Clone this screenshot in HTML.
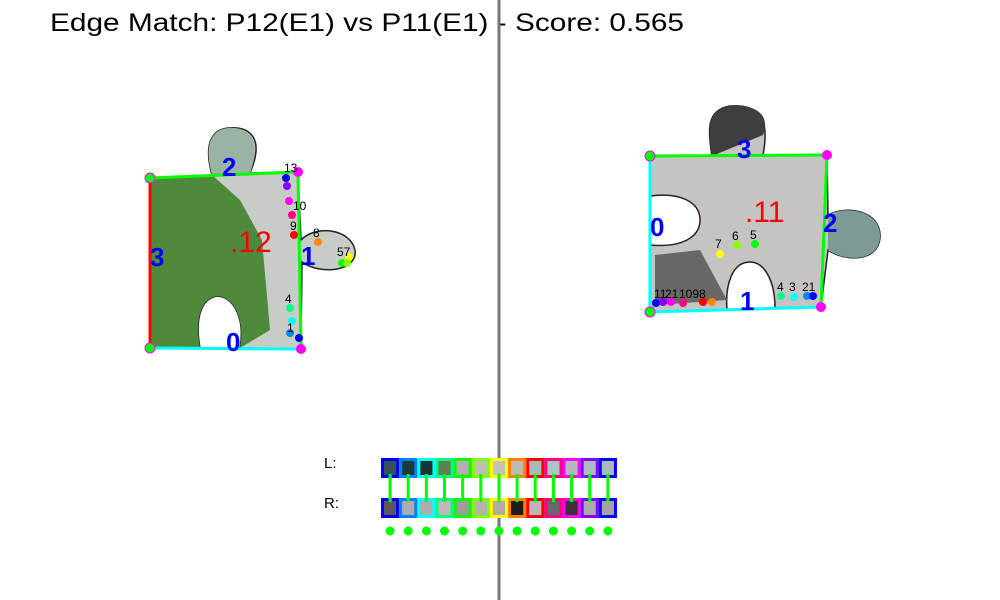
<!DOCTYPE html>
<html><head><meta charset="utf-8"><style>
html,body{margin:0;padding:0;background:#fff;}
svg{display:block;font-family:"Liberation Sans",sans-serif;}
</style></head><body>
<svg id="c" width="1000" height="600" viewBox="0 0 1000 600">
<rect width="1000" height="600" fill="#fff"/>
<text x="50" y="31" font-size="25" textLength="634" lengthAdjust="spacingAndGlyphs">Edge Match: P12(E1) vs P11(E1) - Score: 0.565</text>

<g>
<path d="M150,178 L212,175 C205,150 208,130 228,128 C250,126 265,138 250,173 L298,172 L301,240 C315,225 350,228 355,250 C358,272 320,275 302,262 L301,349 L240,348 C245,320 235,298 218,296 C200,298 195,320 200,348 L150,348 Z" fill="#c8ccc6" stroke="#222" stroke-width="1.5"/>
<path d="M150,178 L212,175 L240,200 L262,240 L270,330 L240,348 C245,320 235,298 218,296 C200,298 195,320 200,348 L150,348 Z" fill="#4e8a3c"/>
<path d="M212,175 C205,150 208,130 228,128 C250,126 262,140 250,173 Z" fill="#9ab3a4"/>
<line x1="150" y1="178" x2="298" y2="172" stroke="#0f0" stroke-width="3"/>
<line x1="298" y1="172" x2="301" y2="349" stroke="#0f0" stroke-width="3"/>
<line x1="150" y1="178" x2="150" y2="348" stroke="#f00" stroke-width="3"/>
<line x1="150" y1="348" x2="301" y2="349" stroke="#0ff" stroke-width="3"/>
<circle cx="150" cy="178" r="5" fill="#0f0" stroke="#f0f" stroke-width="1"/>
<circle cx="150" cy="348" r="5" fill="#0f0" stroke="#f0f" stroke-width="1"/>
<circle cx="298" cy="172" r="5" fill="#f0f"/>
<circle cx="301" cy="349" r="5" fill="#f0f"/>
<text x="222" y="176" font-size="26" font-weight="bold" fill="#00f">2</text>
<text x="150" y="266" font-size="26" font-weight="bold" fill="#00f">3</text>
<text x="301" y="265" font-size="26" font-weight="bold" fill="#00f">1</text>
<text x="226" y="351" font-size="26" font-weight="bold" fill="#00f">0</text>
<text x="230" y="252" font-size="30" fill="#f00">.12</text>
<circle cx="286" cy="178" r="4" fill="#00f"/><circle cx="287" cy="186" r="4" fill="#80f"/>
<circle cx="289" cy="201" r="4" fill="#f0f"/><circle cx="292" cy="215" r="4" fill="#f08"/>
<circle cx="294" cy="235" r="4" fill="#f00"/><circle cx="318" cy="242" r="4" fill="#f80"/>
<circle cx="349" cy="257" r="4" fill="#ff0"/><circle cx="342" cy="263" r="4" fill="#0f0"/><circle cx="347" cy="263" r="4" fill="#8f0"/>
<circle cx="290" cy="308" r="4" fill="#0f8"/><circle cx="292" cy="321" r="4" fill="#0ff"/>
<circle cx="290" cy="333" r="4" fill="#08f"/><circle cx="299" cy="338" r="4" fill="#00f"/>
<g font-size="12" fill="#000"><text x="284" y="172">13</text><text x="293" y="210">10</text><text x="290" y="230">9</text><text x="313" y="237">8</text><text x="337" y="256">57</text><text x="285" y="303">4</text><text x="287" y="332">1</text></g>
</g>

<g>
<path d="M650,156 L712,156 C708,130 706,110 730,106 C760,104 770,118 763,155 L827,155 L828,215 C845,205 882,210 880,238 C878,262 845,262 828,250 L821,307 L775,308 C775,282 765,262 750,262 C732,262 725,285 727,310 L650,312 L650,245 C680,248 700,238 700,220 C700,202 680,192 650,196 Z" fill="#c6c3c2" stroke="#222" stroke-width="1.5"/>
<path d="M712,156 C708,130 706,110 730,106 C760,104 770,118 763,135 Z" fill="#3e3e40"/>
<path d="M655,255 L700,250 L727,300 L655,305 Z" fill="#6a6866"/>
<path d="M828,215 C845,205 882,210 880,238 C878,262 845,262 828,250 Z" fill="#7e9a96"/>
<line x1="650" y1="156" x2="827" y2="155" stroke="#0f0" stroke-width="3"/>
<line x1="827" y1="155" x2="821" y2="307" stroke="#0f0" stroke-width="3"/>
<line x1="650" y1="156" x2="650" y2="312" stroke="#0ff" stroke-width="3"/>
<line x1="650" y1="312" x2="821" y2="307" stroke="#0ff" stroke-width="3"/>
<circle cx="650" cy="156" r="5" fill="#0f0" stroke="#f0f"/><circle cx="650" cy="312" r="5" fill="#0f0" stroke="#f0f"/>
<circle cx="827" cy="155" r="5" fill="#f0f"/><circle cx="821" cy="307" r="5" fill="#f0f"/>
<text x="737" y="158" font-size="26" font-weight="bold" fill="#00f">3</text>
<text x="650" y="236" font-size="26" font-weight="bold" fill="#00f">0</text>
<text x="823" y="232" font-size="26" font-weight="bold" fill="#00f">2</text>
<text x="740" y="310" font-size="26" font-weight="bold" fill="#00f">1</text>
<text x="745" y="222" font-size="30" fill="#f00">.11</text>
<circle cx="720" cy="254" r="4" fill="#ff0"/><circle cx="737" cy="245" r="4" fill="#8f0"/><circle cx="755" cy="244" r="4" fill="#0f0"/>
<circle cx="781" cy="296" r="4" fill="#0f8"/><circle cx="794" cy="297" r="4" fill="#0ff"/><circle cx="807" cy="296" r="4" fill="#08f"/><circle cx="813" cy="296" r="4" fill="#00f"/>
<circle cx="656" cy="303" r="4" fill="#00f"/><circle cx="663" cy="302" r="4" fill="#80f"/><circle cx="671" cy="302" r="4" fill="#f0f"/>
<circle cx="683" cy="303" r="4" fill="#f08"/><circle cx="703" cy="302" r="4" fill="#f00"/><circle cx="712" cy="302" r="4" fill="#f80"/>
<g font-size="12" fill="#000"><text x="715" y="248">7</text><text x="732" y="240">6</text><text x="750" y="239">5</text><text x="777" y="291">4</text><text x="789" y="291">3</text><text x="802" y="291">21</text><text x="654" y="298">11</text><text x="665" y="298">21</text><text x="679" y="298">1098</text></g>
</g>

<line x1="499" y1="0" x2="499" y2="600" stroke="#777" stroke-width="3"/>
<text x="324" y="468" font-size="15">L:</text>
<text x="324" y="508" font-size="15">R:</text>
<g id="strip"></g>
</svg>
<script>
const borderColors=["#0000ff","#0080ff","#00ffff","#00ff80","#00ff00","#80ff00","#ffff00","#ff8000","#ff0000","#ff0080","#ff00ff","#8000ff","#0000ff"];
const leftFills=["#37515a","#1f3a3a","#1c3232","#5d8250","#b4aeae","#c0bdb6","#c4c2bb","#c0bab2","#a9bab9","#acc4c8","#aebabc","#adbcbf","#a9b9bc"];
const rightFills=["#5a585c","#aeaab0","#aeaeae","#c2b8bc","#a09c9c","#b6b2b4","#b6aaa4","#201c1a","#bcb4b6","#686868","#3a3434","#aeaaaa","#a4a2a2"];
const matched=[1,1,1,1,1,1,1,1,1,1,1,1,1];
const NS="http://www.w3.org/2000/svg",g=document.getElementById('strip');
const x0=381,w=18.15;
function mk(t,a){const e=document.createElementNS(NS,t);for(const k in a)e.setAttribute(k,a[k]);g.appendChild(e);return e;}
borderColors.forEach((c,i)=>{
 const x=x0+i*w;
 const a=mk('rect',{x:x+1.5,y:459.5,width:w-3,height:17,fill:leftFills[i],stroke:c,'stroke-width':3});
 
 
 const b=mk('rect',{x:x+1.5,y:499.5,width:w-3,height:17,fill:rightFills[i],stroke:c,'stroke-width':3});
 
 
 if(matched[i]){
  const l=mk('line',{x1:x+w/2,y1:474,x2:x+w/2,y2:502,stroke:'#00ff00','stroke-width':3});
  
  
  const d=mk('circle',{cx:x+w/2,cy:531,r:4.5,fill:'#00ff00'});
  
  
 }
});
</script>
</body></html>
